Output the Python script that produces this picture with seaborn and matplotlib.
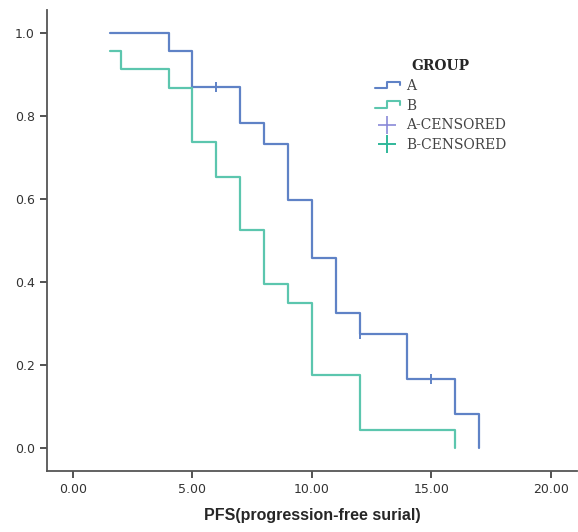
import numpy as np
import pandas as pd
import matplotlib
matplotlib.use("Agg")
import matplotlib.pyplot as plt
import seaborn as sns
from matplotlib.legend_handler import HandlerBase
from matplotlib.lines import Line2D

# Data
time_a = [1.55, 4, 5, 7, 8, 9, 10, 11, 12, 14, 16, 17]
surv_a = [1.0, 0.957, 0.870, 0.783, 0.733, 0.598, 0.458, 0.325, 0.275, 0.166, 0.082, 0.0]
time_b = [1.55, 2, 4, 5, 6, 7, 8, 9, 10, 12, 16]
surv_b = [0.957, 0.913, 0.867, 0.737, 0.653, 0.525, 0.395, 0.349, 0.176, 0.043, 0.0]
cens_a_time = [6, 12, 15]
cens_a_surv = [0.870, 0.275, 0.166]
x_ticks = [0, 5, 10, 15, 20]
x_labels = ["0.00", "5.00", "10.00", "15.00", "20.00"]
y_ticks = [0.0, 0.2, 0.4, 0.6, 0.8, 1.0]
y_labels = ["0.0", "0.2", "0.4", "0.6", "0.8", "1.0"]

col_a = "#5f82c6"
col_b = "#5cc6ae"

sns.set_style("ticks")
plt.rcParams['font.family'] = ['DejaVu Sans']

df = pd.DataFrame({
    "time": time_a + time_b,
    "surv": surv_a + surv_b,
    "group": ["A"] * len(time_a) + ["B"] * len(time_b),
})
cens = pd.DataFrame({"time": cens_a_time, "surv": cens_a_surv, "group": ["A"] * len(cens_a_time)})

fig = plt.figure(figsize=(5.78, 5.32), dpi=100)
ax = fig.add_axes([0.081, 0.115, 0.917, 0.866])

sns.lineplot(data=df, x="time", y="surv", hue="group", palette={"A": col_a, "B": col_b},
             drawstyle="steps-post", estimator=None, sort=False, linewidth=1.6,
             legend=False, ax=ax)
sns.scatterplot(data=cens, x="time", y="surv", color=col_a, marker="|", s=45,
                linewidth=1.4, legend=False, ax=ax)

ax.set_xlim(-1.1, 21.1)
ax.set_ylim(-0.055, 1.055)
ax.set_xticks(x_ticks)
ax.set_xticklabels(x_labels, fontsize=9, color="#333333")
ax.set_yticks(y_ticks)
ax.set_yticklabels(y_labels, fontsize=9, color="#333333")
ax.set_ylabel("")
ax.set_xlabel("PFS(progression-free surial)", fontsize=11.5, fontweight="bold",
              fontfamily="Liberation Sans", labelpad=9)
for s in ["top", "right"]:
    ax.spines[s].set_visible(False)
for s in ["left", "bottom"]:
    ax.spines[s].set_color("#555555")
    ax.spines[s].set_linewidth(1.3)
ax.tick_params(axis="both", length=5, width=1.3, color="#444444")


class StepHandler(HandlerBase):
    def __init__(self, color):
        super().__init__()
        self.color = color

    def create_artists(self, legend, orig_handle, xdescent, ydescent, width, height, fontsize, trans):
        xs = [-xdescent, -xdescent + width * 0.5, -xdescent + width * 0.5, -xdescent + width, -xdescent + width]
        y0 = -ydescent + height * 0.15
        y1 = -ydescent + height * 0.85
        ys = [y0, y0, y1, y1, y1 - height * 0.35]
        l = Line2D(xs, ys, color=self.color, lw=1.5, transform=trans)
        return [l]


ha = Line2D([], [], color=col_a)
hb = Line2D([], [], color=col_b)
hca = Line2D([], [], color="#8a8ad8", marker="+", linestyle="None", markersize=13, mew=1.2)
hcb = Line2D([], [], color="#30b89a", marker="+", linestyle="None", markersize=13, mew=1.4)
leg = ax.legend([ha, hb, hca, hcb], ["A", "B", "A-CENSORED", "B-CENSORED"],
                handler_map={ha: StepHandler(col_a), hb: StepHandler(col_b)},
                title="GROUP", loc="upper left", bbox_to_anchor=(0.60, 0.915),
                frameon=False, prop={"family": "DejaVu Serif", "size": 10},
                handlelength=1.8, handletextpad=0.5, labelspacing=0.42, borderpad=0.2)
leg.get_title().set_fontfamily("DejaVu Serif")
leg.get_title().set_fontsize(10)
leg.get_title().set_fontweight("bold")
for t in leg.get_texts():
    t.set_color("#444444")

fig.savefig("out.png", dpi=100)
